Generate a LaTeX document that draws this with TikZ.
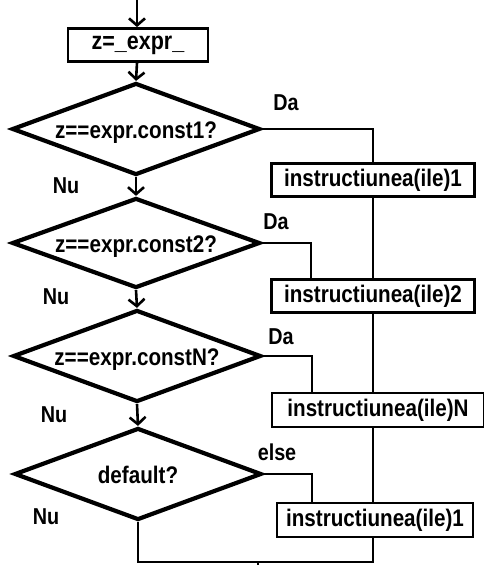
\documentclass[tikz,border=0pt]{standalone}
\usepackage{fontspec}
\setmainfont{Liberation Sans}[FakeStretch=0.86]
\usetikzlibrary{shapes.geometric,arrows.meta}
\newcommand{\dtext}[1]{\raisebox{-0.4em}[0pt][0pt]{\makebox[0pt]{#1}}}
\begin{document}
\begin{tikzpicture}[x=1pt,y=-1pt,
  every node/.style={font=\bfseries\fontsize{24}{26}\selectfont},
  dec/.style={diamond,draw,line width=4.2pt,inner sep=0pt,minimum width=248pt,minimum height=92pt},
  ibox/.style={rectangle,draw,line width=2.8pt,inner sep=0pt,minimum height=33pt},
  conn/.style={line width=2.6pt},
  arr/.style={line width=2.6pt,-{Straight Barb[length=7pt,width=16pt,line width=2.6pt]}},
  lbl/.style={inner sep=0pt,font=\bfseries\fontsize{23}{25}\selectfont}]
\useasboundingbox (0,0) rectangle (483,565);
\coordinate (top) at (137,0);
\node[ibox,minimum width=140pt,font=\bfseries\fontsize{25}{27}\selectfont] (b0) at (138,45) {z=\_expr\_};
\node[dec] (d1) at (136,129) {\dtext{z==expr.const1?}};
\node[dec,minimum height=90pt] (d2) at (136,243) {\dtext{z==expr.const2?}};
\node[dec] (d3) at (137,356) {\dtext{z==expr.constN?}};
\node[dec,minimum width=247pt] (d4) at (138,474) {\dtext{default?}};
\node[ibox,minimum width=203pt] (b1) at (373,180) {instructiunea(ile)1};
\node[ibox,minimum width=203pt] (b2) at (373,296) {instructiunea(ile)2};
\node[ibox,minimum width=212pt,minimum height=34pt] (b3) at (378,410) {instructiunea(ile)N};
\node[ibox,minimum width=196pt,minimum height=34pt] (b4) at (375,520) {instructiunea(ile)1};
\coordinate (k2) at (311,0);
\coordinate (k3) at (312,0);
\coordinate (k4) at (312,0);
\coordinate (kr) at (373,0);
\coordinate (bl) at (138,562);
\coordinate (bs) at (258,562);
\coordinate (be) at (258,566);
\node[lbl] (da1) at (286,103) {Da};
\node[lbl] (nu1) at (66,186) {Nu};
\node[lbl] (da2) at (276,222) {Da};
\node[lbl] (nu2) at (56,297) {Nu};
\node[lbl] (da3) at (281,337) {Da};
\node[lbl] (nu3) at (54,415) {Nu};
\node[lbl] (el) at (277,452) {else};
\node[lbl] (nu4) at (46,517) {Nu};
\draw[arr] (top) -- (top |- b0.north);
\draw[arr] (top |- b0.south) -- (d1.north);
\draw[arr] (d1.south) -- (d2.north);
\draw[arr] (d2.south) -- (d3.north);
\draw[arr] (d3.south) -- (d4.north);
\draw[conn] (d1.east) -| (kr |- b1.north);
\draw[conn] (d2.east) -| (k2 |- b2.north);
\draw[conn] (d3.east) -| (k3 |- b3.north);
\draw[conn] (d4.east) -| (k4 |- b4.north);
\draw[conn] (kr |- b1.south) -- (kr |- b2.north);
\draw[conn] (kr |- b2.south) -- (kr |- b3.north);
\draw[conn] (kr |- b3.south) -- (kr |- b4.north);
\draw[conn] (d4.south) -- (bl) -| (kr |- b4.south);
\draw[conn] (bs) -- (be);
\end{tikzpicture}
\end{document}
